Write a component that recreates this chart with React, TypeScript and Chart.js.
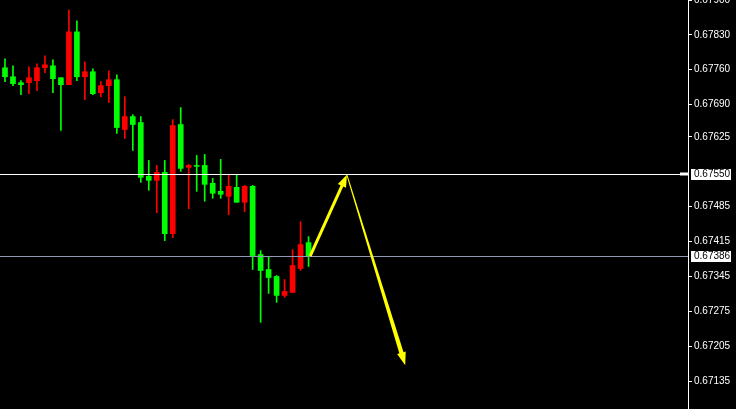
import React, { useEffect, useRef } from "react";
import { Chart, registerables } from "chart.js";

Chart.register(...registerables);

// OHLC candles (oldest → newest)
const opens = [0.67764, 0.67746, 0.67734, 0.67734, 0.67738, 0.67764, 0.67768, 0.67744, 0.67730, 0.67836,
  0.67746, 0.67756, 0.67714, 0.67728, 0.67740, 0.67640, 0.67666, 0.67654, 0.67546, 0.67538,
  0.67554, 0.67431, 0.67650, 0.67564, 0.67568, 0.67568, 0.67532, 0.67516, 0.67506, 0.67524,
  0.67494, 0.67526, 0.67389, 0.67359, 0.67345, 0.67307, 0.67313, 0.67361, 0.67413];
const highs = [0.67782, 0.67768, 0.67738, 0.67766, 0.67772, 0.67788, 0.67780, 0.67744, 0.67880, 0.67858,
  0.67776, 0.67762, 0.67736, 0.67758, 0.67750, 0.67706, 0.67670, 0.67666, 0.67578, 0.67568,
  0.67578, 0.67660, 0.67684, 0.67570, 0.67588, 0.67590, 0.67542, 0.67580, 0.67548, 0.67550,
  0.67528, 0.67528, 0.67397, 0.67385, 0.67347, 0.67339, 0.67399, 0.67455, 0.67425];
const lows = [0.67736, 0.67728, 0.67710, 0.67712, 0.67718, 0.67754, 0.67714, 0.67638, 0.67730, 0.67738,
  0.67700, 0.67710, 0.67706, 0.67694, 0.67632, 0.67622, 0.67598, 0.67534, 0.67518, 0.67473,
  0.67417, 0.67423, 0.67556, 0.67481, 0.67516, 0.67496, 0.67502, 0.67502, 0.67469, 0.67494,
  0.67475, 0.67359, 0.67253, 0.67311, 0.67293, 0.67303, 0.67313, 0.67357, 0.67365];
const closes = [0.67746, 0.67732, 0.67730, 0.67744, 0.67764, 0.67770, 0.67742, 0.67730, 0.67836, 0.67746,
  0.67756, 0.67712, 0.67728, 0.67740, 0.67644, 0.67666, 0.67650, 0.67544, 0.67538, 0.67554,
  0.67431, 0.67648, 0.67562, 0.67568, 0.67566, 0.67530, 0.67512, 0.67510, 0.67526, 0.67494,
  0.67526, 0.67387, 0.67357, 0.67343, 0.67307, 0.67315, 0.67367, 0.67409, 0.67385];

const slotCount = 86;
const slotLabels = Array.from({ length: slotCount }, (_, i) => String(i));

const yTicks = [0.679, 0.6783, 0.6776, 0.6769, 0.67625, 0.67485, 0.67415, 0.67345, 0.67275, 0.67205, 0.67135];
const yMin = 0.67079;
const yMax = 0.679;

// horizontal levels
const levelPrices = [0.6755, 0.67386];
const levelColors = ["#ffffff", "#8e9ab0"];

// projected path (candle index, price)
const arrowIdx = [38.2, 42.8, 50.1];
const arrowPrice = [0.67386, 0.67549, 0.67167];

const UP = "#ff0000";
const DOWN = "#00ff00";

function arrowHead(ctx: CanvasRenderingContext2D, x0: number, y0: number, x1: number, y1: number, len: number, half: number) {
  const a = Math.atan2(y1 - y0, x1 - x0);
  const bx = x1 - len * Math.cos(a);
  const by = y1 - len * Math.sin(a);
  ctx.beginPath();
  ctx.moveTo(x1, y1);
  ctx.lineTo(bx + half * Math.sin(a), by - half * Math.cos(a));
  ctx.lineTo(bx - half * Math.sin(a), by + half * Math.cos(a));
  ctx.closePath();
  ctx.fill();
}

const overlayPlugin = {
  id: "overlay",
  afterDatasetsDraw(chart: any) {
    const ctx = chart.ctx as CanvasRenderingContext2D;
    const xs = chart.scales.x;
    const ys = chart.scales.y;
    const area = chart.chartArea;
    ctx.save();
    // levels
    levelPrices.forEach((p, i) => {
      const y = Math.round(ys.getPixelForValue(p)) + 0.5;
      ctx.strokeStyle = levelColors[i];
      ctx.lineWidth = 1;
      ctx.beginPath();
      ctx.moveTo(0, y);
      ctx.lineTo(area.right, y);
      ctx.stroke();
      if (i === 0) {
        ctx.fillStyle = "#ffffff";
        ctx.fillRect(area.right - 8, y - 2, 8, 3);
      }
    });
    // arrows
    const pts = arrowIdx.map((v, i) => [xs.getPixelForValue(v), ys.getPixelForValue(arrowPrice[i])]);
    ctx.fillStyle = "#ffff00";
    ctx.strokeStyle = "#ffff00";
    // arrow 1: uniform shaft
    {
      const [x0, y0] = pts[0];
      const [x1, y1] = pts[1];
      const a = Math.atan2(y1 - y0, x1 - x0);
      const len = 12;
      ctx.lineWidth = 3;
      ctx.beginPath();
      ctx.moveTo(x0, y0);
      ctx.lineTo(x1 - len * 0.8 * Math.cos(a), y1 - len * 0.8 * Math.sin(a));
      ctx.stroke();
      arrowHead(ctx, x0, y0, x1, y1, len, 4.5);
    }
    // arrow 2: tapered shaft
    {
      const [x0, y0] = pts[1];
      const [x1, y1] = pts[2];
      const a = Math.atan2(y1 - y0, x1 - x0);
      const len = 13;
      const ex = x1 - len * 0.8 * Math.cos(a);
      const ey = y1 - len * 0.8 * Math.sin(a);
      const s = Math.sin(a);
      const c = Math.cos(a);
      const w0 = 0.5;
      const w1 = 2.2;
      ctx.beginPath();
      ctx.moveTo(x0 + w0 * s, y0 - w0 * c);
      ctx.lineTo(ex + w1 * s, ey - w1 * c);
      ctx.lineTo(ex - w1 * s, ey + w1 * c);
      ctx.lineTo(x0 - w0 * s, y0 + w0 * c);
      ctx.closePath();
      ctx.fill();
      arrowHead(ctx, x0, y0, x1, y1, len, 4.5);
    }
    // level labels
    ctx.font = "10px 'Liberation Sans', Arial, sans-serif";
    ctx.textBaseline = "middle";
    ctx.textAlign = "left";
    levelPrices.forEach((p) => {
      const y = Math.round(ys.getPixelForValue(p));
      ctx.fillStyle = "#ffffff";
      ctx.fillRect(area.right + 3, y - 5, 40, 11);
      ctx.fillStyle = "#000000";
      ctx.fillText(p.toFixed(5), area.right + 6, y + 0.5);
    });
    ctx.restore();
  },
};

export default function App() {
  const ref = useRef<HTMLCanvasElement | null>(null);
  useEffect(() => {
    document.body.style.margin = "0";
    document.body.style.background = "#000";
    const canvas = ref.current!;
    const colors = opens.map((o, i) => (closes[i] >= o ? UP : DOWN));
    const chart = new Chart(canvas, {
      type: "bar",
      data: {
        labels: slotLabels,
        datasets: [
          {
            data: opens.map((o, i) => [o, closes[i]]) as any,
            backgroundColor: colors,
            borderWidth: 0,
            barThickness: 5,
            minBarLength: 1,
            grouped: false,
          } as any,
          {
            data: lows.map((l, i) => [l, highs[i]]) as any,
            backgroundColor: colors,
            borderWidth: 0,
            barThickness: 1,
            grouped: false,
          } as any,
        ],
      },
      options: {
        animation: false,
        responsive: false,
        devicePixelRatio: 1,
        layout: { padding: { left: 1, right: 0, top: 0, bottom: 0 } },
        plugins: { legend: { display: false }, tooltip: { enabled: false } },
        scales: {
          x: { display: false, offset: true },
          y: {
            position: "right",
            min: yMin,
            max: yMax,
            afterBuildTicks: (s: any) => {
              s.ticks = yTicks.map((v) => ({ value: v }));
            },
            afterFit: (s: any) => {
              s.width = 48;
              s.paddingTop = 0;
              s.paddingBottom = 0;
            },
            border: { display: true, color: "#ffffff", width: 1 },
            grid: { drawOnChartArea: false, drawTicks: true, tickLength: 4, color: "#ffffff" },
            ticks: {
              color: "#ffffff",
              padding: 2,
              font: { family: "'Liberation Sans', Arial, sans-serif", size: 10 },
              callback: (v: any) => Number(v).toFixed(5),
            },
          },
        },
      },
      plugins: [overlayPlugin],
    });
    return () => chart.destroy();
  }, []);
  return (
    <div style={{ width: 736, height: 409, background: "#000" }}>
      <canvas ref={ref} width={736} height={409} style={{ display: "block", width: 736, height: 409 }} />
    </div>
  );
}
